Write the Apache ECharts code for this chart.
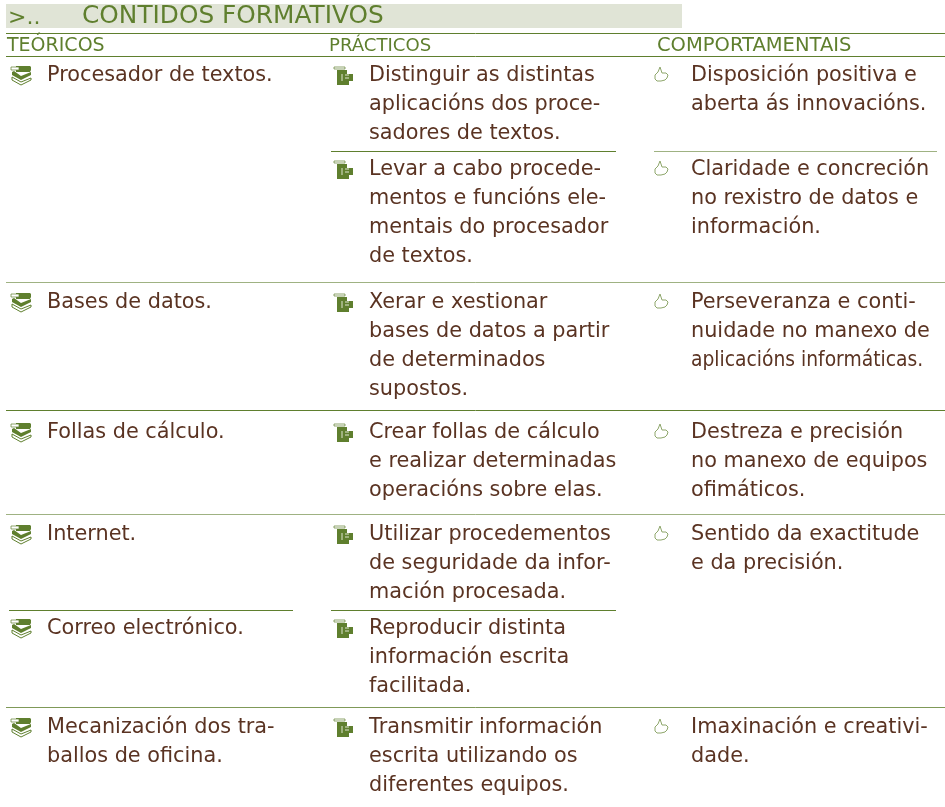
<!DOCTYPE html>
<html>
<head>
<meta charset="utf-8">
<title>Contidos formativos</title>
<script src="https://cdn.jsdelivr.net/npm/echarts@6/dist/echarts.min.js"></script>
<style>
  html, body { margin: 0; padding: 0; background: #fff; }
  #chart { width: 945px; height: 807px; }
</style>
</head>
<body>
<div id="chart"></div>
<script>
// textos
const sectionMark = '>..';
const sectionTitle = 'CONTIDOS FORMATIVOS';
const columnTitles = ['TEÓRICOS', 'PRÁCTICOS', 'COMPORTAMENTAIS'];

const teoricos = [
  'Procesador de textos.',
  'Bases de datos.',
  'Follas de cálculo.',
  'Internet.',
  'Correo electrónico.',
  'Mecanización dos tra-\nballos de oficina.'
];
const practicos = [
  'Distinguir as distintas\naplicacións dos proce-\nsadores de textos.',
  'Levar a cabo procede-\nmentos e funcións ele-\nmentais do procesador\nde textos.',
  'Xerar e xestionar\nbases de datos a partir\nde determinados\nsupostos.',
  'Crear follas de cálculo\ne realizar determinadas\noperacións sobre elas.',
  'Utilizar procedementos\nde seguridade da infor-\nmación procesada.',
  'Reproducir distinta\ninformación escrita\nfacilitada.',
  'Transmitir información\nescrita utilizando os\ndiferentes equipos.'
];
const comportamentais = [
  'Disposición positiva e\naberta ás innovacións.',
  'Claridade e concreción\nno rexistro de datos e\ninformación.',
  'Perseveranza e conti-\nnuidade no manexo de\naplicacións informáticas.',
  'Destreza e precisión\nno manexo de equipos\nofimáticos.',
  'Sentido da exactitude\ne da precisión.',
  'Imaxinación e creativi-\ndade.'
];

// maquetación
const GREEN = '#5f7f2e';
const BROWN = '#5a3322';
const BAND = '#e0e4d6';
const FONT = '"DejaVu Sans", sans-serif';
const BODY_SIZE = 20.8;
const LINE_HEIGHT = 29;
// esta liña vai apertada no orixinal para caber na columna
const condensedLine = 'aplicacións informáticas.';

const teoricosTop = [76, 303, 433, 535, 629, 728];
const practicosTop = [76, 170, 303, 433, 535, 629, 728];
const comportamentaisTop = [76, 170, 303, 433, 535, 728];

// [y, x1, x2, opacidade]
const rules = [
  [33, 6, 945, 1],
  [56, 6, 945, 1],
  [282, 6, 945, 0.6],
  [410, 6, 945, 1],
  [514, 6, 945, 0.6],
  [707, 6, 945, 0.8],
  [151, 331, 616, 1],
  [151, 654, 937, 0.6],
  [610, 9, 293, 1],
  [610, 331, 616, 1]
];

// iconas
const bookIcon = (x, y) => ({
  type: 'group', x: x, y: y, silent: true,
  children: [
    { type: 'polygon', shape: { points: [[5, 0], [19, 0], [20, 1], [20, 4], [19, 6], [5, 6]] }, style: { fill: GREEN } },
    { type: 'polygon', shape: { points: [[0, 1], [8, 1], [8, 4], [0, 4]] }, style: { fill: '#fff', stroke: GREEN, lineWidth: 0.7 } },
    { type: 'polygon', shape: { points: [[1, 6], [3, 5], [10, 10], [20, 6], [20, 9], [10, 14], [1, 9]] }, style: { fill: GREEN } },
    { type: 'polyline', shape: { points: [[1, 11], [1, 14], [10, 19], [20, 14], [20, 12]] }, style: { fill: 'none', stroke: GREEN, lineWidth: 1 } },
    { type: 'polyline', shape: { points: [[1, 11], [10, 16], [20, 12]] }, style: { fill: 'none', stroke: GREEN, lineWidth: 1 } }
  ]
});
const deviceIcon = (x, y) => ({
  type: 'group', x: x, y: y, silent: true,
  children: [
    { type: 'polygon', shape: { points: [[0, 1], [11, 1], [11, 3], [0, 3]] }, style: { fill: '#fff', stroke: GREEN, lineWidth: 0.7 } },
    { type: 'polygon', shape: { points: [[3, 4], [13, 4], [13, 8], [19, 8], [19, 15], [15, 15], [15, 19], [3, 19]] }, style: { fill: GREEN } },
    { type: 'polyline', shape: { points: [[8, 8], [8, 15]] }, style: { fill: 'none', stroke: '#dfe6cf', lineWidth: 1 } },
    { type: 'polyline', shape: { points: [[11, 9], [15, 9]] }, style: { fill: 'none', stroke: '#dfe6cf', lineWidth: 1 } },
    { type: 'polyline', shape: { points: [[11, 12], [15, 12]] }, style: { fill: 'none', stroke: '#dfe6cf', lineWidth: 1 } }
  ]
});
const thumbIcon = (x, y) => ({
  type: 'polygon', x: x, y: y, silent: true,
  shape: { points: [[6, 0], [7, 3], [8, 6], [12, 6], [14, 8], [13, 11], [11, 13], [7, 14], [3, 14], [1, 12], [1, 8], [4, 5]] },
  style: { fill: 'none', stroke: '#8ea66b', lineWidth: 1 }
});

const textEl = (x, y, text, fontSize, color) => ({
  type: 'text', x: x, y: y, silent: true,
  scaleX: text === condensedLine ? 0.9 : 1,
  style: { text: text, fill: color, font: fontSize + 'px ' + FONT, verticalAlign: 'middle', align: 'left' }
});

// una columna: icona + liñas de texto
const column = (items, tops, textX, iconX, iconDy, icon) => {
  const out = [];
  items.forEach((item, i) => {
    out.push(icon(iconX, tops[i] + iconDy));
    item.split('\n').forEach((line, j) => {
      out.push(textEl(textX, tops[i] + j * LINE_HEIGHT, line, BODY_SIZE, BROWN));
    });
  });
  return out;
};

const elements = [
  { type: 'rect', silent: true, shape: { x: 6, y: 4, width: 676, height: 24 }, style: { fill: BAND } },
  textEl(8, 18, sectionMark, 22, GREEN),
  textEl(82, 17, sectionTitle, 24.8, GREEN),
  textEl(7, 46, columnTitles[0], 19, GREEN),
  textEl(329, 46, columnTitles[1], 18.1, GREEN),
  textEl(657, 46, columnTitles[2], 19.5, GREEN)
];

rules.forEach(r => {
  elements.push({
    type: 'line', silent: true,
    shape: { x1: r[1], y1: r[0] + 0.5, x2: r[2], y2: r[0] + 0.5 },
    style: { stroke: GREEN, lineWidth: 1, opacity: r[3] }
  });
});

elements.push(...column(teoricos, teoricosTop, 47, 11, -10, bookIcon));
elements.push(...column(practicos, practicosTop, 369, 334, -10, deviceIcon));
elements.push(...column(comportamentais, comportamentaisTop, 691, 654, -9, thumbIcon));

const chart = echarts.init(document.getElementById('chart'));
chart.setOption({
  backgroundColor: '#fff',
  animation: false,
  graphic: { elements: elements }
});
window.addEventListener('resize', () => {
  chart.resize();
});
</script>
</body>
</html>
